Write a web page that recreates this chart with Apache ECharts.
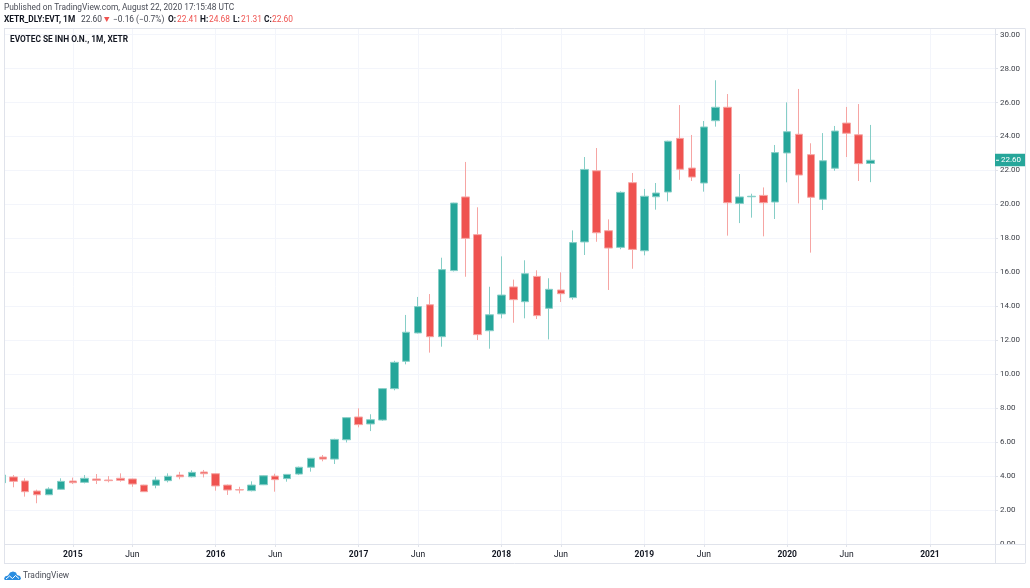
<!DOCTYPE html>
<html><head><meta charset="utf-8">
<style>html,body{margin:0;padding:0;background:#fff}#c{width:1030px;height:588px}</style>
<script src="https://cdn.jsdelivr.net/npm/echarts@6/dist/echarts.min.js"></script>
</head><body><div id="c"></div>
<script>
// months since Jan 2015 (Jul 2014 = -6 ... Aug 2020 = 67)
const firstMonth = -6;
const opens = [3.61,3.95,3.71,3.12,2.90,3.22,3.71,3.63,3.83,3.77,3.87,3.83,3.47,3.46,3.73,4.06,3.96,4.24,4.14,3.47,3.20,3.14,3.49,4.00,3.85,4.12,4.52,5.12,5.00,6.14,7.48,7.07,7.30,9.15,10.76,12.43,14.09,12.21,16.10,20.44,18.22,12.56,13.55,15.14,14.27,15.76,13.88,14.96,14.51,17.79,21.98,18.45,17.47,21.28,17.27,20.45,20.73,23.89,22.14,21.26,24.93,25.72,20.06,20.45,20.53,20.14,23.03,24.13,22.93,20.30,22.13,24.79,24.10,22.41];
const closes = [4.06,3.69,3.08,2.90,3.24,3.69,3.61,3.87,3.75,3.73,3.75,3.53,3.08,3.77,3.99,3.96,4.22,4.14,3.42,3.18,3.18,3.47,4.02,3.79,4.10,4.52,5.05,5.00,6.16,7.44,7.03,7.32,9.15,10.70,12.47,13.98,12.21,16.16,20.08,18.00,12.33,13.50,14.66,14.39,15.92,13.45,15.00,14.74,17.75,22.06,18.33,17.43,20.71,17.35,20.48,20.67,23.72,22.07,21.61,24.56,25.72,20.10,20.44,20.48,20.10,23.05,24.28,21.73,20.42,22.57,24.32,24.19,22.40,22.60];
const lows = [3.50,3.34,2.79,2.40,2.88,3.20,3.53,3.57,3.53,3.63,3.67,3.37,3.06,3.28,3.63,3.81,3.92,3.92,3.14,2.89,2.98,3.10,3.47,3.08,3.67,4.06,4.26,4.87,4.71,5.98,6.87,6.65,7.25,9.05,10.58,12.40,11.27,11.62,16.05,15.74,12.01,11.50,13.29,13.03,13.29,13.25,12.05,14.25,14.39,17.02,17.80,14.96,17.36,16.21,17.00,19.69,20.18,21.45,21.38,20.75,24.58,18.16,18.90,19.22,18.12,19.14,21.30,20.06,17.16,19.67,21.98,22.79,21.38,21.31];
const highs = [4.15,4.06,3.87,3.20,3.34,3.87,3.91,4.06,4.12,4.00,4.16,3.85,3.49,3.96,4.16,4.25,4.34,4.36,4.16,3.50,3.37,3.69,4.04,4.14,4.12,4.56,5.07,5.24,6.20,7.47,7.99,7.64,9.18,10.79,13.49,14.55,14.72,16.86,20.10,22.50,19.83,15.15,16.94,15.57,16.71,16.12,15.65,16.00,18.47,22.79,23.32,19.12,20.77,21.85,20.91,21.26,23.75,25.85,24.09,24.91,27.31,26.50,21.79,20.63,21.00,23.50,26.01,26.80,23.60,24.20,24.62,25.74,25.91,24.68];
const timeTicks = [0,5,12,17,24,29,36,41,48,53,60,65,72];
const timeLabels = ['2015','Jun','2016','Jun','2017','Jun','2018','Jun','2019','Jun','2020','Jun','2021'];
const priceTicks = [0,2,4,6,8,10,12,14,16,18,20,22,24,26,28,30];
const lastPrice = 22.60;
const publishedText = 'Published on TradingView.com, August 22, 2020 17:15:48 UTC';
const symbolText = 'XETR_DLY:EVT, 1M';
const changeText = '\u22120.16 (\u22120.7%)';
const ohlcLabels = ['O:','H:','L:','C:'];
const ohlcValues = ['22.41','24.68','21.31','22.60'];
const titleText = 'EVOTEC SE INH O.N., 1M, XETR';

const UP='#26a69a', DOWN='#ef5350', GRID='#f3f5fb', FRAME='#e0e3eb', TXT='#131722';
const FONT='Roboto';
const candles = opens.map((o,i)=>[firstMonth+i,o,closes[i],lows[i],highs[i]]);
const chart = echarts.init(document.getElementById('c'),null,{renderer:'canvas'});
const txt=(x,y,text,o={})=>({type:'text',silent:true,z:20,x,y,style:Object.assign({text,fontFamily:FONT,fontSize:8.35,fill:'#434651',textVerticalAlign:'middle'},o)});
chart.setOption({
  animation:false,
  backgroundColor:'#fff',
  grid:{left:4,right:35,top:29,bottom:44,show:false},
  xAxis:{type:'value',min:-5.78,max:77.46,z:1.5,
    axisLine:{show:true,onZero:false,lineStyle:{color:FRAME,width:1}},
    axisTick:{show:true,length:3,lineStyle:{color:FRAME},customValues:timeTicks},
    splitLine:{show:true,lineStyle:{color:GRID,width:1}},
    axisLabel:{margin:6,color:TXT,fontFamily:FONT,fontSize:8.5,customValues:timeTicks,showMinLabel:true,showMaxLabel:true,
      formatter:v=>{const s=timeLabels[timeTicks.indexOf(v)]||'';return s==='Jun'?s:'{y|'+s+'}';},
      rich:{y:{fontWeight:'bold',fontSize:8.5,fontFamily:FONT,color:TXT}}}},
  yAxis:{type:'value',position:'right',min:0,max:30.33,z:0,
    axisLine:{show:true,onZero:false,lineStyle:{color:FRAME,width:1}},
    axisTick:{show:true,length:3,lineStyle:{color:FRAME},customValues:priceTicks},
    splitLine:{show:true,lineStyle:{color:GRID,width:1}},
    axisLabel:{margin:5,padding:[2,0,0,0],color:'#3a3d45',fontFamily:FONT,fontSize:8,customValues:priceTicks,showMinLabel:true,showMaxLabel:true,formatter:v=>v.toFixed(2)}},
  series:[{type:'candlestick',barWidth:8,encode:{x:0,y:[1,2,3,4]},data:candles,
    itemStyle:{color:UP,color0:DOWN,borderColor:'#86cec7',borderColor0:'#f6a5a3',borderWidth:1}}]
});
const py = chart.convertToPixel({yAxisIndex:0},lastPrice);
const r=(x,y,w,h,fill,z=20)=>({type:'rect',silent:true,z,shape:{x,y,width:w,height:h},style:{fill}});
const hl=(x1,y1,x2,y2,stroke=FRAME)=>({type:'line',silent:true,z:21,shape:{x1,y1,x2,y2},style:{stroke,lineWidth:1}});
const ohlcX=[[168,177],[200,209],[233,241],[264,272]];
chart.setOption({graphic:[
  r(0,544.5,1030,44,'#fff',1),
  r(0,28,4,518,'#fff',3),
  hl(4,28.5,1025,28.5),hl(4.5,28.5,4.5,563.5),hl(1025.5,28.5,1025.5,563.5),hl(4,563.5,1025,563.5),hl(995.5,28.5,995.5,563.5),hl(4,544.5,1025,544.5),
  txt(4,8,publishedText,{fill:'#4a4d57'}),
  txt(4,19.5,symbolText,{fontWeight:'bold',fill:TXT}),
  txt(81,19.5,lastPrice.toFixed(2)),
  {type:'polygon',silent:true,z:20,shape:{points:[[104,17],[109.5,17],[106.75,22]]},style:{fill:DOWN}},
  txt(113,19.5,changeText),
  ...ohlcLabels.map((l,i)=>txt(ohlcX[i][0],19.5,l,{fontWeight:'bold',fill:TXT})),
  ...ohlcValues.map((v,i)=>txt(ohlcX[i][1],19.5,v,{fill:DOWN})),
  txt(10,39.5,titleText,{fontWeight:'bold',fill:TXT}),
  r(995,py-6.5,30,12.5,UP,22),
  {type:'line',silent:true,z:23,shape:{x1:996,y1:py,x2:999,y2:py},style:{stroke:'#fff',lineWidth:1}},
  Object.assign(txt(1001,py,lastPrice.toFixed(2),{fill:'#fff',fontSize:8}),{z:23}),
  {type:'polygon',silent:true,z:20,shape:{points:[[4,579],[5,576.5],[8,575.5],[10,572.5],[13,571.5],[16,572.5],[17,575],[20,576],[21,578.5],[20,580],[5,580]]},style:{fill:'#2a8de0'}},
  {type:'polyline',silent:true,z:21,shape:{points:[[6,579],[9.5,576],[12.5,578.5],[15.5,575.5],[19,578.5]]},style:{stroke:'#fff',fill:null,lineWidth:1}},
  txt(23,575.5,'TradingView',{fontSize:8.4,fill:'#4a4d57'})
]});
</script></body></html>
